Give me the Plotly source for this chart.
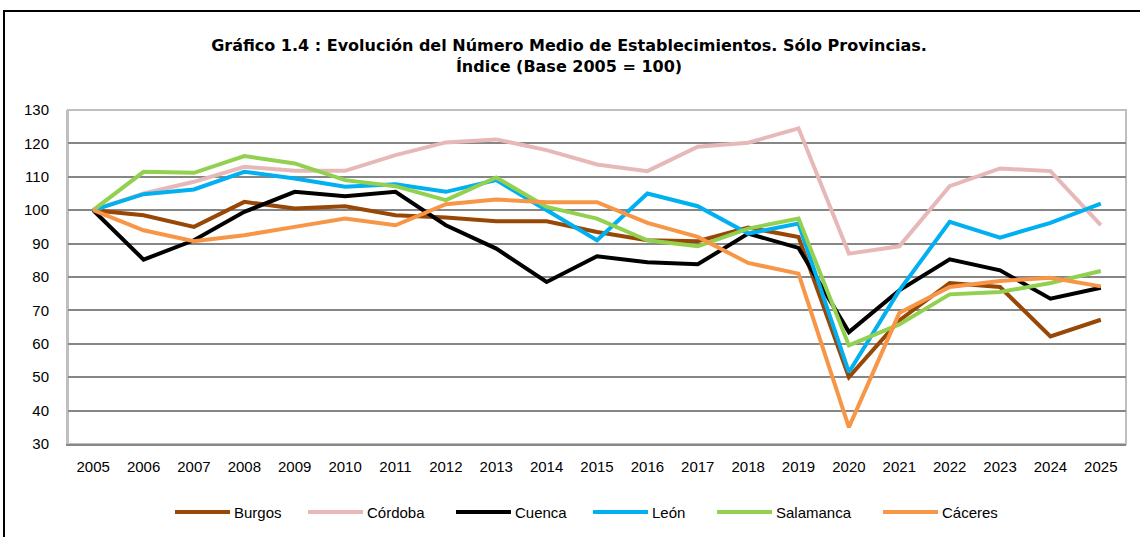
import plotly.graph_objects as go

years = [str(y) for y in range(2005, 2026)]

burgos    = [100, 98.5, 95.0, 102.5, 100.5, 101.2, 98.5, 97.8, 96.7, 96.7, 93.5, 91.0, 90.7, 94.8, 92.0, 50.0, 67.0, 78.2, 77.0, 62.2, 67.2]
cordoba   = [100, 105.0, 108.5, 113.0, 111.8, 111.8, 116.5, 120.3, 121.2, 118.0, 113.7, 111.7, 119.0, 120.2, 124.5, 87.0, 89.2, 107.2, 112.5, 111.7, 95.5]
cuenca    = [100, 85.2, 91.0, 99.5, 105.5, 104.2, 105.5, 95.5, 88.5, 78.5, 86.2, 84.4, 83.8, 93.0, 88.7, 63.5, 76.0, 85.3, 82.0, 73.5, 76.8]
leon      = [100, 104.8, 106.2, 111.5, 109.5, 107.0, 107.8, 105.5, 109.0, 100.0, 91.0, 105.0, 101.2, 93.0, 96.0, 51.5, 76.0, 96.5, 91.8, 96.2, 102.0]
salamanca = [100, 111.5, 111.2, 116.2, 114.0, 109.0, 107.2, 103.0, 109.8, 101.0, 97.5, 91.0, 89.2, 94.5, 97.5, 59.5, 65.8, 74.8, 75.5, 78.2, 81.8]
caceres   = [100, 94.0, 90.7, 92.5, 95.0, 97.5, 95.5, 101.8, 103.2, 102.4, 102.4, 96.2, 92.0, 84.2, 81.0, 35.0, 69.2, 77.0, 78.8, 79.8, 77.2]

series_names = ["Burgos", "Córdoba", "Cuenca", "León", "Salamanca", "Cáceres"]
series_vals = [burgos, cordoba, cuenca, leon, salamanca, caceres]
colors = ["#974706", "#E6B9B8", "#000000", "#00B0F0", "#92D050", "#F79646"]

y_ticks = list(range(30, 131, 10))

FONT = "Liberation Sans, Arial, sans-serif"

W, H = 1140, 537
ML, MT = 68, 110
MR = W - 1126
MB = H - 444
PW = W - ML - MR
PH = H - MT - MB


def px_x(x):
    return (x - ML) / PW


def px_y(y):
    return 1 - (y - MT) / PH


fig = go.Figure()
for name, vals, col in zip(series_names, series_vals, colors):
    fig.add_trace(go.Scatter(x=years, y=vals, name=name, mode="lines",
                             line=dict(color=col, width=4), showlegend=False))

fig.update_layout(
    width=W, height=H,
    margin=dict(l=ML, r=MR, t=MT, b=MB, autoexpand=False),
    paper_bgcolor="white", plot_bgcolor="white",
    title=dict(text="Gráfico 1.4 : Evolución del Número Medio de Establecimientos. Sólo Provincias.<br>Índice (Base 2005 = 100)",
               x=569 / W, xref="container", xanchor="center",
               y=1 - 51 / H, yref="container", yanchor="middle",
               font=dict(family="DejaVu Sans, Verdana, sans-serif", size=16, color="black", weight="bold")),
    font=dict(family=FONT, size=15, color="black"),
    showlegend=False,
)

fig.update_xaxes(type="category", showgrid=False, showline=True, linecolor="#868686", linewidth=2,
                 ticks="", ticklabelstandoff=8, tickfont=dict(family=FONT, size=15),
                 range=[-0.5, len(years) - 0.5], automargin=False)
fig.update_yaxes(range=[30, 130], tickvals=y_ticks, showgrid=True, gridcolor="#868686", gridwidth=1.5,
                 showline=True, linecolor="#BFBFBF", linewidth=2, zeroline=False,
                 ticks="", ticklabelstandoff=14, tickfont=dict(family=FONT, size=15), automargin=False)

# plot area border (light grey)
fig.add_shape(type="rect", xref="paper", yref="paper", x0=0, x1=1, y0=0, y1=1,
              line=dict(color="#BFBFBF", width=2), layer="below")
# outer chart frame (black), its right and bottom edges lie outside the picture
fig.add_shape(type="rect", xref="paper", yref="paper",
              x0=px_x(4), x1=px_x(1160), y0=px_y(570), y1=px_y(11),
              line=dict(color="black", width=2), layer="below")

# manual legend (wide line samples as in the reference)
legend_x = [175, 308, 456, 593, 717, 883]
legend_y = 512
for name, col, lx in zip(series_names, colors, legend_x):
    fig.add_shape(type="line", xref="paper", yref="paper",
                  x0=px_x(lx), x1=px_x(lx + 55), y0=px_y(legend_y), y1=px_y(legend_y),
                  line=dict(color=col, width=4))
    fig.add_annotation(xref="paper", yref="paper", x=px_x(lx + 57), y=px_y(legend_y),
                       text=name, showarrow=False, xanchor="left", yanchor="middle",
                       font=dict(family=FONT, size=15, color="black"))

fig.write_html("out.html", config={"displayModeBar": False},
               post_script="document.body.style.margin='0';document.body.style.padding='0';")
